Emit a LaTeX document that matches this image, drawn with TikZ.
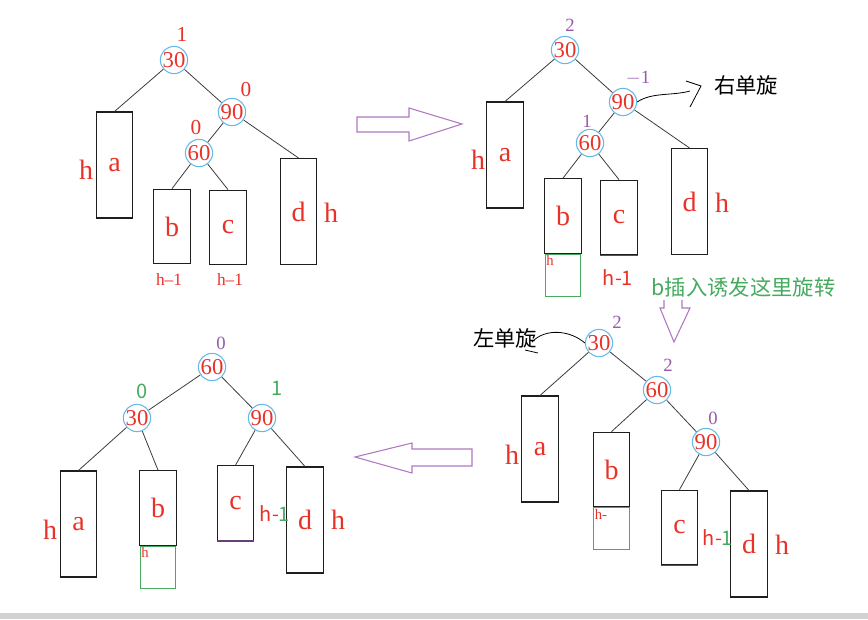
\documentclass[tikz,border=0pt]{standalone}
\usepackage{fontspec}
\setmainfont{Liberation Serif}
\newfontfamily\cjk{Noto Sans CJK SC}
\usepackage{tikz}
\usepackage{xcolor}
\usetikzlibrary{arrows,positioning}
\definecolor{keyred}{RGB}{232,50,40}
\definecolor{keyblue}{RGB}{100,185,230}
\definecolor{balpurple}{RGB}{150,90,170}
\definecolor{growgreen}{RGB}{70,170,95}
\definecolor{arrowpurple}{RGB}{175,120,195}
\definecolor{boxgray}{RGB}{30,30,30}
\definecolor{edgegray}{RGB}{60,60,60}
\newcommand{\hmo}{h--1}
\newcommand{\hmos}{{\cjk h-}{\color{growgreen}1}}

\begin{document}
\begin{tikzpicture}[x=0.75pt, y=-0.75pt,
  key/.style={circle, draw=keyblue, line width=0.8pt, inner sep=0pt, minimum size=20pt, text=keyred, font=\fontsize{17}{17}\selectfont},
  tall/.style={draw=boxgray, line width=0.8pt, inner sep=0pt, minimum width=27.5pt, minimum height=79.5pt, text=keyred, font=\fontsize{21}{21}\selectfont},
  short/.style={tall, minimum height=56pt},
  growbox/.style={draw=growgreen, line width=0.8pt, inner sep=0pt, minimum width=26.5pt, minimum height=31.5pt},
  bal/.style={text=keyred, font=\fontsize{16}{16}\selectfont},
  balp/.style={text=balpurple, font=\fontsize{14}{14}\selectfont},
  balg/.style={text=growgreen, font=\cjk\fontsize{15}{15}\selectfont},
  hbig/.style={text=keyred, font=\fontsize{21}{21}\selectfont},
  hsmall/.style={text=keyred, font=\fontsize{13}{13}\selectfont},
  htiny/.style={text=keyred, font=\fontsize{11}{11}\selectfont, anchor=north west, inner sep=1pt},
  hsans/.style={text=keyred, font=\cjk\fontsize{15}{15}\selectfont},
  rot/.style={text=black, font=\cjk\fontsize{16}{16}\selectfont},
  edge/.style={draw=edgegray, line width=0.6pt},
  bigarrow/.style={draw=arrowpurple, line width=0.8pt, line join=miter}
]
\useasboundingbox (0,0) rectangle (868,619);
\fill[gray!35] (0,613) rectangle (868,619);
%
% top left
\node[key] (p30) at (174,60) {30};
\node[key] (p90) at (232,112) {90};
\node[key] (p60) at (199,153) {60};
\node[tall] (pa) at (114.5,165) {a};
\node[short] (pb) at (172,226.5) {b};
\node[short] (pc) at (228,227.5) {c};
\node[tall] (pd) at (298.5,211.5) {d};
\node[bal] (pf30) at (182,34) {1};
\node[bal] (pf90) at (246,90) {0};
\node[bal] (pf60) at (196,128) {0};
\node[hbig] (pha) at (86,170) {h};
\node[hbig] (phd) at (331,213) {h};
\node[hsmall] (phb) at (169,279) {\hmo};
\node[hsmall] (phc) at (230,279) {\hmo};
\draw[edge] (p30) -- (pa.north);
\draw[edge] (p30) -- (p90);
\draw[edge] (p90) -- (p60);
\draw[edge] (p90) -- (pd.north);
\draw[edge] (p60) -- (pb.north);
\draw[edge] (p60) -- (pc.north);
%
\draw[bigarrow] (357,117) -- (409,117) -- (409,108) -- (462,124) -- (409,141) -- (409,132) -- (357,132) -- cycle;
%
% top right
\node[key] (q30) at (565,50) {30};
\node[key] (q90) at (623,102) {90};
\node[key] (q60) at (590,143) {60};
\node[tall] (qa) at (505,155) {a};
\node[short] (qb) at (563,216) {b};
\node[short] (qc) at (619,217.5) {c};
\node[tall] (qd) at (689.5,201.5) {d};
\node[growbox, below=0pt of qb] (qg) {};
\node[htiny] (qgh) at (qg.north west) {h};
\node[balp] (qf30) at (570,25) {2};
\node[balp] (qf90) at (638,78) {$-$1};
\node[balp] (qf60) at (587,121) {1};
\node[hbig] (qha) at (478,160) {h};
\node[hbig] (qhd) at (722,203) {h};
\node[hsans] (qhc) at (618,278) {h-1};
\draw[edge] (q30) -- (qa.north);
\draw[edge] (q30) -- (q90);
\draw[edge] (q90) -- (q60);
\draw[edge] (q90) -- (qd.north);
\draw[edge] (q60) -- (qb.north);
\draw[edge] (q60) -- (qc.north);
\draw[balpurple!70!black, line width=1.2pt] (qc.south west) -- (qc.south east);
\node[rot] (qrot) at (746,85) {右单旋};
\coordinate (qr) at (690,91);
\draw[line width=0.6pt] (q90.east) .. controls (652,92) and (672,96) .. (qr);
\draw[line width=0.6pt] (686,81) -- (701,86) -- (690,107);
\node[anchor=west, text=growgreen, font=\cjk\fontsize{16}{16}\selectfont] (qnote) at (647,287) {b插入诱发这里旋转};
%
\draw[bigarrow] (664,300) -- (664,308) -- (660,308) -- (674,342) -- (690,308) -- (682,308) -- (682,300);
%
% bottom right
\node[key] (r30) at (599,343) {30};
\node[key] (r60) at (657,390) {60};
\node[key] (r90) at (706,442) {90};
\node[tall] (ra) at (540,449) {a};
\node[short] (rb) at (611.5,469.5) {b};
\node[short] (rc) at (679.5,527.5) {c};
\node[tall] (rd) at (749,544) {d};
\node[growbox, below=0pt of rb] (rg) {};
\node[htiny] (rgh) at (rg.north west) {h-};
\node[balp] (rf30) at (617,322) {2};
\node[balp] (rf60) at (668,365) {2};
\node[balp] (rf90) at (713,418) {0};
\node[hbig] (rha) at (512,455) {h};
\node[hbig] (rhd) at (782,545) {h};
\node[hsans] (rhc) at (718,538) {\hmos};
\draw[edge] (r30) -- (ra.north);
\draw[edge] (r30) -- (r60);
\draw[edge] (r60) -- (rb.north);
\draw[edge] (r60) -- (r90);
\draw[edge] (r90) -- (rc.north);
\draw[edge] (r90) -- (rd.north);
\draw[balpurple!70!black, line width=1.2pt] (rc.south west) -- (rc.south east);
\node[rot] (rrot) at (505,338) {左单旋};
\draw[line width=0.6pt] (r30.west) .. controls (570,330) and (545,328) .. (532,342);
\draw[line width=0.6pt] (525,350) -- (538,353);
%
\draw[bigarrow] (472,449) -- (412,449) -- (412,443) -- (355,457) -- (412,473) -- (412,466) -- (472,466) -- cycle;
%
% bottom left
\node[key] (s60) at (212,367) {60};
\node[key] (s30) at (137,418) {30};
\node[key] (s90) at (262,418) {90};
\node[tall] (sa) at (78.5,524) {a};
\node[short] (sb) at (158,508) {b};
\node[short] (sc) at (235.5,503) {c};
\node[tall] (sd) at (305,520) {d};
\node[growbox, below=0pt of sb] (sg) {};
\node[htiny] (sgh) at (sg.north west) {h};
\node[balp] (sf60) at (221,343) {0};
\node[balg] (sf30) at (142,391) {0};
\node[balg] (sf90) at (277,388) {1};
\node[hbig] (sha) at (50,530) {h};
\node[hbig] (shd) at (338,520) {h};
\node[hsans] (shc) at (275,514) {\hmos};
\draw[edge] (s60) -- (s30);
\draw[edge] (s60) -- (s90);
\draw[edge] (s30) -- (sa.north);
\draw[edge] (s30) -- (sb.north);
\draw[edge] (s90) -- (sc.north);
\draw[edge] (s90) -- (sd.north);
\draw[balpurple!70!black, line width=1.2pt] (sc.south west) -- (sc.south east);
\end{tikzpicture}
\end{document}
